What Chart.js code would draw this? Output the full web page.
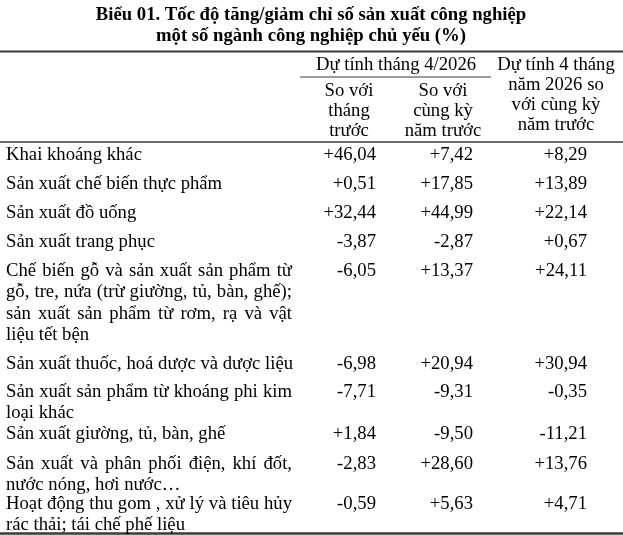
<!DOCTYPE html>
<html lang="vi">
<head>
<meta charset="utf-8">
<title>Biểu 01</title>
<script src="https://cdn.jsdelivr.net/npm/chart.js@4.4.1/dist/chart.umd.min.js"></script>
<style>
  html, body { margin: 0; padding: 0; background: #fff; }
  #wrap { width: 623px; height: 535px; position: relative; }
</style>
</head>
<body>
<div id="wrap"><canvas id="table-chart"></canvas></div>
<script>
const titleLines = [
  'Biểu 01. Tốc độ tăng/giảm chỉ số sản xuất công nghiệp',
  'một số ngành công nghiệp chủ yếu (%)',
];
const groupHeader = 'Dự tính tháng 4/2026';
const columnHeaders = [
  ['So với', 'tháng', 'trước'],
  ['So với', 'cùng kỳ', 'năm trước'],
  ['Dự tính 4 tháng', 'năm 2026 so', 'với cùng kỳ', 'năm trước'],
];
const industries = [
  ['Khai khoáng khác'],
  ['Sản xuất chế biến thực phẩm'],
  ['Sản xuất đồ uống'],
  ['Sản xuất trang phục'],
  ['Chế biến gỗ và sản xuất sản phẩm từ', 'gỗ, tre, nứa (trừ giường, tủ, bàn, ghế);', 'sản xuất sản phẩm từ rơm, rạ và vật', 'liệu tết bện'],
  ['Sản xuất thuốc, hoá dược và dược liệu'],
  ['Sản xuất sản phẩm từ khoáng phi kim', 'loại khác'],
  ['Sản xuất giường, tủ, bàn, ghế'],
  ['Sản xuất và phân phối điện, khí đốt,', 'nước nóng, hơi nước…'],
  ['Hoạt động thu gom , xử lý và tiêu hủy', 'rác thải; tái chế phế liệu'],
];
const vsPrevMonth = [46.04, 0.51, 32.44, -3.87, -6.05, -6.98, -7.71, 1.84, -2.83, -0.59];
const vsSameMonthLastYear = [7.42, 17.85, 44.99, -2.87, 13.37, 20.94, -9.31, -9.50, 28.60, 5.63];
const fourMonthsVsLastYear = [8.29, 13.89, 22.14, 0.67, 24.11, 30.94, -0.35, -11.21, 13.76, 4.71];

// layout (in scale units = px of the 623x535 area)
const W = 623;
const H = 535;
const FONT = '"Liberation Serif", "Times New Roman", serif';
const SIZE = 18.7;
const labelLeft = 6;
const labelRight = 292;
const colRight = [376, 473, 587];
const colCenter = [349, 443, 556];
const lineStep = 21.5;
// space from the last line of a row to the first line of the next (Word paragraph spacing)
const rowSpacing = [0, 29, 29, 29, 29, 28.5, 28, 20.5, 30, 18.5];

const rowY = [];
let cursor = 155;
industries.forEach((lines, i) => {
  cursor += rowSpacing[i];
  rowY.push(cursor);
  cursor += (lines.length - 1) * lineStep;
});

const formatValue = (v) => (v > 0 ? '+' : '') + v.toFixed(2).replace('.', ',');

const series = [vsPrevMonth, vsSameMonthLastYear, fourMonthsVsLastYear];

const drawJustified = (ctx, text, x0, x1, y) => {
  const words = text.split(' ');
  const widths = words.map((w) => ctx.measureText(w).width);
  const total = widths.reduce((a, b) => a + b, 0);
  const gap = (x1 - x0 - total) / (words.length - 1);
  let x = x0;
  words.forEach((w, i) => {
    ctx.fillText(w, x, y);
    x += widths[i] + gap;
  });
};

const tablePlugin = {
  id: 'tableText',
  afterDatasetsDraw(chart) {
    const { ctx } = chart;
    const xs = chart.scales.x;
    const ys = chart.scales.y;
    const px = (v) => xs.getPixelForValue(v);
    const py = (v) => ys.getPixelForValue(v);

    ctx.save();
    ctx.fillStyle = '#000';
    ctx.textBaseline = 'middle';

    // title
    ctx.font = 'bold ' + SIZE + 'px ' + FONT;
    ctx.textAlign = 'center';
    ctx.fillText(titleLines[0], px(311), py(15));
    ctx.fillText(titleLines[1], px(311), py(36));

    // rules
    const rule = (y, x0, x1, lw) => {
      ctx.beginPath();
      ctx.strokeStyle = '#3a3a3a';
      ctx.lineWidth = lw;
      ctx.moveTo(px(x0), py(y));
      ctx.lineTo(px(x1), py(y));
      ctx.stroke();
    };
    rule(51.5, 0, W, 2);
    rule(142, 0, W, 1.5);
    rule(77, 300, 491, 1);
    rule(533.5, 0, W, 2.5);

    // headers
    ctx.font = SIZE + 'px ' + FONT;
    ctx.fillText(groupHeader, px(396), py(65));
    columnHeaders.forEach((lines, k) => {
      const start = k === 2 ? 65 : 91;
      lines.forEach((line, j) => {
        ctx.fillText(line, px(colCenter[k]), py(start + j * 20));
      });
    });

    // industry labels
    ctx.textAlign = 'left';
    industries.forEach((lines, i) => {
      lines.forEach((line, j) => {
        const y = py(rowY[i] + j * lineStep);
        if (lines.length > 1 && j < lines.length - 1) {
          drawJustified(ctx, line, px(labelLeft), px(labelRight), y);
        } else {
          ctx.fillText(line, px(labelLeft), y);
        }
      });
    });

    // values at the points placed by the scales
    ctx.textAlign = 'right';
    chart.data.datasets.forEach((ds, k) => {
      chart.getDatasetMeta(k).data.forEach((pt, i) => {
        ctx.fillText(formatValue(series[k][i]), pt.x, pt.y);
      });
    });
    ctx.restore();
  },
};

new Chart(document.getElementById('table-chart'), {
  type: 'scatter',
  data: {
    datasets: series.map((values, k) => ({
      label: columnHeaders[k].join(' '),
      data: values.map((v, i) => ({ x: colRight[k], y: rowY[i] })),
      pointRadius: 0,
      pointHoverRadius: 0,
    })),
  },
  options: {
    responsive: true,
    maintainAspectRatio: false,
    animation: false,
    layout: { padding: 0 },
    events: [],
    plugins: {
      legend: { display: false },
      tooltip: { enabled: false },
    },
    scales: {
      x: { type: 'linear', min: 0, max: W, display: false },
      y: { type: 'linear', min: 0, max: H, reverse: true, display: false },
    },
  },
  plugins: [tablePlugin],
});
</script>
</body>
</html>
